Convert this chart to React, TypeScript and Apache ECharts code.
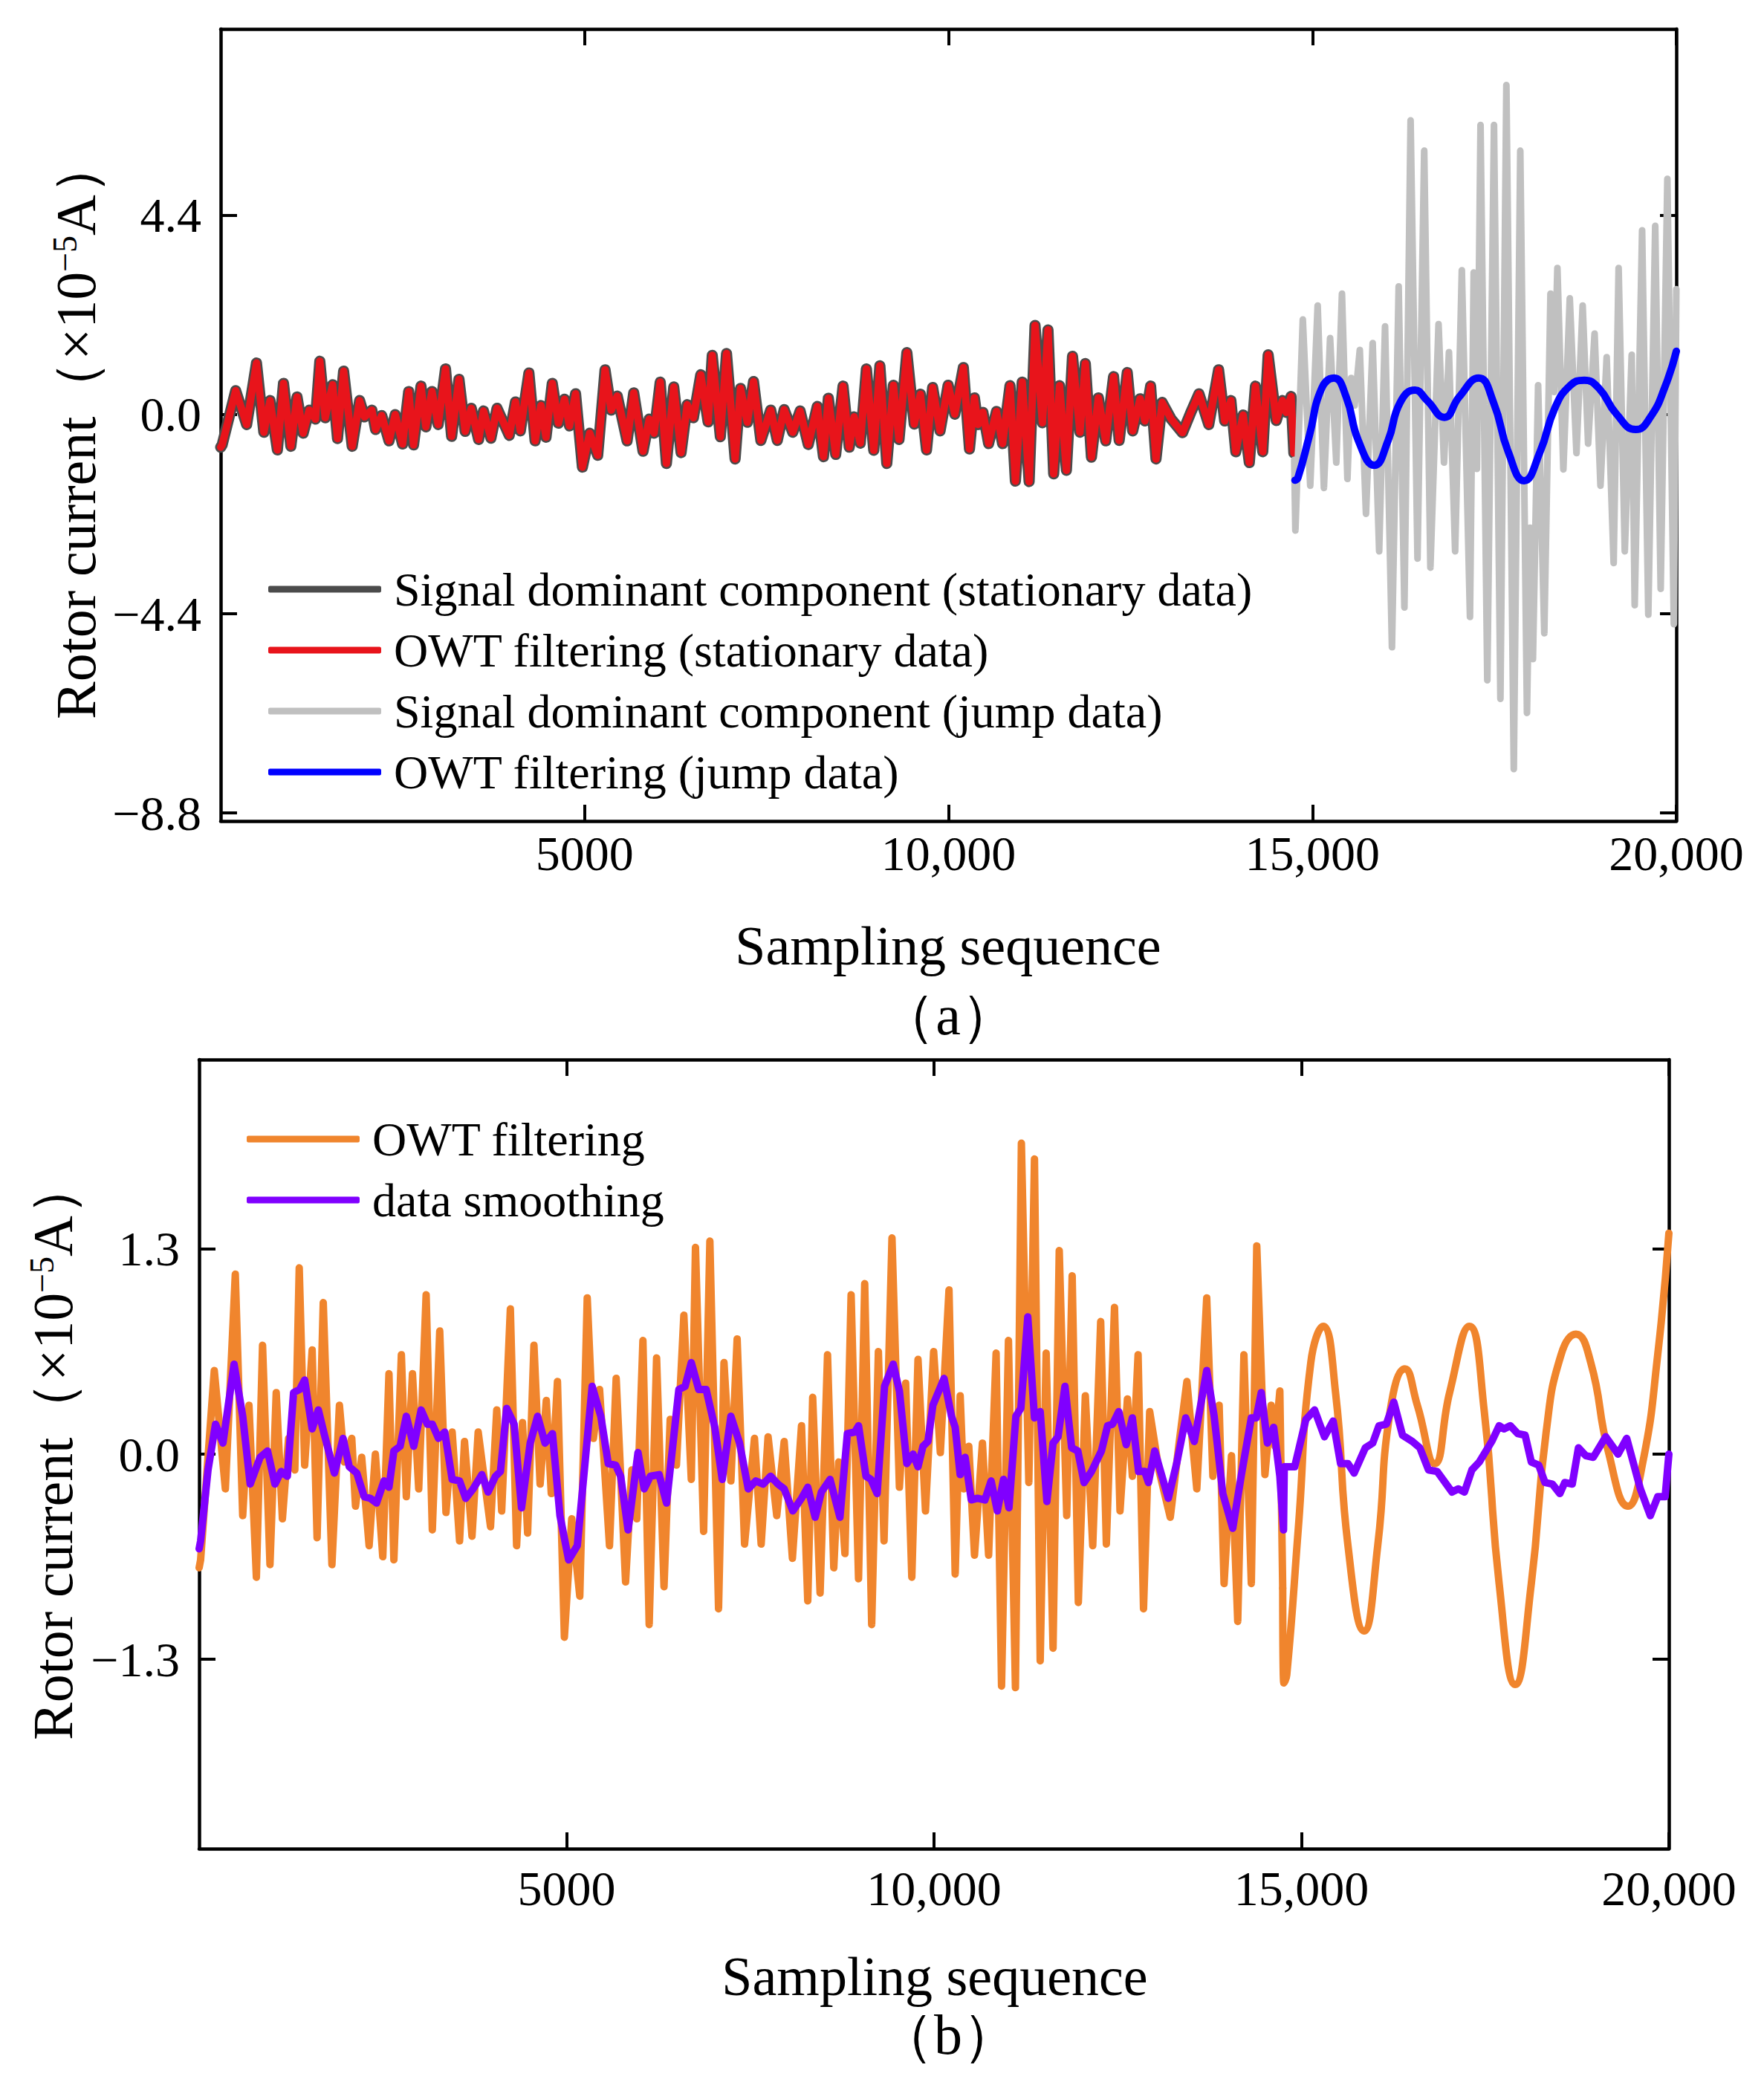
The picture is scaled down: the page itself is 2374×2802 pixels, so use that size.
import React, { useEffect, useRef } from 'react';
import * as echarts from 'echarts';

// OWT filtering result, stationary part (x = sampling index, y = current ×1e-5 A)
const owtStationary: number[][] = [
  [0, -0.72], [20, -0.67], [206, 0.53], [357, -0.22], [492, 1.14], [593, -0.39], [678, 0.31], [779, -0.78],
  [863, 0.69], [964, -0.70], [1049, 0.39], [1133, -0.41], [1217, 0.10], [1302, -0.10], [1362, 1.18],
  [1436, -0.07], [1538, 0.66], [1605, -0.53], [1689, 0.96], [1807, -0.70], [1909, 0.31], [1976, -0.05],
  [2077, 0.10], [2128, -0.33], [2212, -0.02], [2313, -0.58], [2398, 0.00], [2499, -0.65], [2583, 0.51],
  [2650, -0.67], [2752, 0.63], [2819, -0.27], [2903, 0.51], [2988, -0.22], [3089, 1.01], [3173, -0.48],
  [3274, 0.78], [3359, -0.37], [3443, 0.14], [3544, -0.55], [3611, 0.08], [3713, -0.52], [3797, 0.14],
  [3965, -0.46], [4050, 0.28], [4117, -0.36], [4235, 0.92], [4320, -0.58], [4400, 0.20], [4470, -0.50],
  [4556, 0.69], [4640, -0.19], [4724, 0.34], [4792, -0.25], [4876, 0.46], [4970, -1.16], [5070, -0.41],
  [5180, -0.90], [5281, 0.99], [5365, 0.10], [5449, 0.41], [5584, -0.58], [5675, 0.48], [5803, -0.81],
  [5888, -0.10], [5955, -0.41], [6039, 0.72], [6124, -1.08], [6225, 0.61], [6326, -0.84], [6410, 0.22],
  [6495, -0.07], [6596, 0.88], [6697, -0.16], [6754, 1.31], [6865, -0.49], [6950, 1.35], [7068, -0.98],
  [7142, 0.58], [7236, -0.17], [7321, 0.73], [7422, -0.57], [7557, 0.10], [7648, -0.57], [7742, 0.11],
  [7860, -0.39], [7961, 0.08], [8073, -0.66], [8197, 0.18], [8282, -0.93], [8349, 0.36], [8450, -0.88],
  [8551, 0.63], [8636, -0.72], [8703, -0.05], [8788, -0.63], [8872, 1.01], [8973, -0.79], [9057, 1.08],
  [9152, -1.08], [9243, 0.65], [9320, -0.55], [9428, 1.37], [9529, -0.21], [9614, 0.45], [9698, -0.78],
  [9782, 0.60], [9884, -0.36], [9995, 0.65], [10086, 0.01], [10204, 1.04], [10288, -0.76], [10356, 0.37],
  [10406, -0.22], [10473, 0.05], [10551, -0.64], [10659, 0.07], [10743, -0.64], [10845, 0.64], [10919, -1.47],
  [11013, 0.72], [11108, -1.48], [11189, 1.97], [11290, -0.18], [11367, 1.87], [11445, -1.31], [11526, 0.64],
  [11620, -1.23], [11704, 1.29], [11806, -0.39], [11880, 1.13], [11964, -0.94], [12059, 0.37], [12160, -0.58],
  [12268, 0.84], [12345, -0.57], [12456, 0.93], [12531, -0.36], [12632, 0.35], [12699, -0.14], [12777, 0.63],
  [12851, -0.98], [12935, 0.27], [13060, -0.10], [13215, -0.40], [13330, 0.05], [13441, 0.46], [13576, -0.22],
  [13711, 0.99], [13795, -0.14], [13880, 0.31], [13947, -0.82], [14048, -0.01], [14133, -1.06], [14217, 0.63],
  [14318, -0.82], [14392, 1.32], [14503, -0.13], [14588, 0.31], [14640, 0.05], [14706, 0.40], [14745, -0.85],
];

// OWT filtering result, jump part
const owtJump: number[][] = [
  [14760, -1.45], [14800, -1.40], [14959, -0.46], [15127, 0.58], [15296, 0.81], [15464, 0.39], [15633, -0.58],
  [15852, -1.12], [16038, -0.58], [16206, 0.27], [16409, 0.54], [16577, 0.31], [16813, -0.06], [17016, 0.39],
  [17285, 0.81], [17488, 0.27], [17690, -0.82], [17909, -1.46], [18128, -0.82], [18330, 0.14], [18533, 0.63],
  [18735, 0.76], [18937, 0.58], [19174, 0.02], [19443, -0.33], [19646, -0.05], [19848, 0.63], [20000, 1.40],
];

// signal dominant component, jump part
const jumpSignal: number[][] = [
  [14750, -1.0], [14766, -2.56], [14868, 2.10], [14970, -1.57], [15072, 2.41], [15158, -1.62], [15243, 1.69],
  [15328, -1.06], [15406, 2.67], [15481, -1.42], [15532, 0.81], [15580, 0.20], [15651, 1.43], [15736, -2.19],
  [15828, 1.58], [15917, -3.02], [15998, 1.95], [16093, -5.14], [16185, 2.83], [16264, -4.26], [16349, 6.50],
  [16444, -3.18], [16536, 5.83], [16621, -3.38], [16733, 2.00], [16808, -1.06], [16876, 1.38], [16961, -3.02],
  [17053, 3.19], [17165, -4.47], [17216, 3.14], [17260, -1.20], [17310, 6.40], [17403, -5.87], [17495, 6.40],
  [17583, -6.28], [17665, 7.28], [17767, -7.83], [17856, 5.83], [17948, -6.59], [17990, -2.50], [18030, -5.40],
  [18101, 0.65], [18186, -4.83], [18271, 2.67], [18320, 0.50], [18366, 3.24], [18448, -1.21], [18536, 2.57],
  [18628, -0.85], [18713, 2.41], [18788, -0.64], [18877, 1.79], [18958, -1.57], [19043, 1.27], [19139, -3.28],
  [19207, 3.24], [19292, -3.02], [19387, 1.32], [19428, -4.21], [19530, 4.07], [19615, -4.42], [19710, 4.17],
  [19785, -3.85], [19877, 5.21], [19966, -4.63], [20000, 2.77],
];

// data smoothing result
const smoothed: number[][] = [
  [0, -0.60], [20, -0.55], [121, -0.10], [223, 0.19], [324, 0.07], [475, 0.57], [593, 0.24], [695, -0.19],
  [830, -0.02], [931, 0.02], [1032, -0.19], [1116, -0.11], [1200, -0.14], [1285, 0.39], [1369, 0.41],
  [1436, 0.47], [1538, 0.16], [1622, 0.28], [1706, 0.12], [1841, -0.12], [1959, 0.10], [2043, -0.08],
  [2145, -0.12], [2246, -0.27], [2330, -0.28], [2414, -0.31], [2516, -0.17], [2583, -0.21], [2650, 0.02],
  [2735, 0.05], [2819, 0.24], [2920, 0.05], [3021, 0.28], [3106, 0.19], [3173, 0.19], [3257, 0.10],
  [3342, 0.14], [3443, -0.16], [3544, -0.17], [3628, -0.28], [3729, -0.22], [3847, -0.13], [3932, -0.24],
  [4033, -0.14], [4100, -0.11], [4185, 0.29], [4286, 0.19], [4387, -0.34], [4505, 0.07], [4606, 0.24],
  [4707, 0.07], [4808, 0.13], [4910, -0.39], [5028, -0.67], [5146, -0.58], [5348, 0.43], [5466, 0.24],
  [5567, -0.06], [5668, -0.07], [5736, -0.14], [5837, -0.48], [5972, 0.01], [6056, -0.22], [6140, -0.14],
  [6259, -0.13], [6360, -0.31], [6528, 0.41], [6613, 0.43], [6697, 0.58], [6798, 0.41], [6899, 0.41],
  [7017, 0.17], [7118, -0.16], [7236, 0.24], [7354, 0.07], [7472, -0.22], [7574, -0.17], [7675, -0.19],
  [7776, -0.14], [7877, -0.19], [7961, -0.22], [8079, -0.36], [8197, -0.28], [8282, -0.21], [8383, -0.40],
  [8467, -0.24], [8585, -0.16], [8720, -0.40], [8821, 0.13], [8922, 0.14], [8973, 0.18], [9074, -0.14],
  [9142, -0.16], [9226, -0.25], [9327, 0.43], [9445, 0.57], [9529, 0.40], [9630, -0.06], [9715, 0.00],
  [9782, -0.08], [9850, 0.05], [9917, 0.08], [9985, 0.31], [10136, 0.48], [10238, 0.24], [10288, 0.17],
  [10356, -0.13], [10423, -0.02], [10507, -0.29], [10592, -0.28], [10693, -0.29], [10777, -0.17], [10862, -0.36],
  [10946, -0.16], [11020, -0.34], [11114, 0.24], [11182, 0.29], [11276, 0.87], [11367, 0.23], [11445, 0.27],
  [11536, -0.30], [11620, 0.07], [11688, 0.11], [11782, 0.43], [11873, 0.04], [11957, 0.02], [12042, -0.18],
  [12143, -0.11], [12278, 0.02], [12362, 0.18], [12430, 0.19], [12514, 0.27], [12615, 0.06], [12699, 0.23],
  [12784, -0.11], [12868, -0.11], [12918, -0.18], [13003, 0.02], [13188, -0.28], [13306, -0.05], [13425, 0.23],
  [13542, 0.08], [13711, 0.53], [13812, 0.24], [13930, -0.25], [14065, -0.47], [14183, -0.13], [14318, 0.23],
  [14385, 0.23], [14453, 0.39], [14537, 0.07], [14622, 0.17], [14706, -0.14], [14756, -0.48], [14766, -0.08],
  [14908, -0.08], [15060, 0.22], [15178, 0.28], [15313, 0.11], [15431, 0.21], [15532, -0.06], [15633, -0.06],
  [15717, -0.12], [15869, 0.04], [15970, 0.07], [16055, 0.18], [16156, 0.19], [16257, 0.33], [16375, 0.12],
  [16510, 0.08], [16611, 0.04], [16729, -0.10], [16847, -0.11], [17049, -0.24], [17134, -0.22], [17218, -0.24],
  [17319, -0.10], [17420, -0.05], [17589, 0.08], [17690, 0.18], [17757, 0.16], [17842, 0.18], [17943, 0.13],
  [18044, 0.12], [18128, -0.05], [18229, -0.07], [18314, -0.18], [18415, -0.19], [18516, -0.25], [18583, -0.18],
  [18685, -0.19], [18769, 0.04], [18870, -0.01], [18971, -0.02], [19140, 0.11], [19308, 0.00], [19426, 0.10],
  [19612, -0.22], [19747, -0.39], [19848, -0.27], [19949, -0.27], [20000, 0.00],
];

const xTicks = [5000, 10000, 15000, 20000];
const yTicksTop = [-8.8, -4.4, 0, 4.4];
const yTicksBottom = [-1.3, 0, 1.3];

const FONT = "'Liberation Serif', 'Times New Roman', serif";

const fmtY = (v: number) => (v < 0 ? '\u2212' + Math.abs(v).toFixed(1) : v.toFixed(1));
const fmtX = (v: number) => (v >= 10000 ? v.toLocaleString('en-US') : String(v));

const App: React.FC = () => {
  const chartRef = useRef<HTMLDivElement>(null);

  useEffect(() => {
    if (!chartRef.current) return;
    const chart = echarts.init(chartRef.current, undefined, { renderer: 'svg' });

    const frameLine = { show: true, onZero: false, lineStyle: { color: '#000', width: 4.5 } };

    const xAxisFor = (grid: number, pos: 'bottom' | 'top', labelMargin: number) => ({
      type: 'value',
      gridIndex: grid,
      position: pos,
      min: 0,
      max: 20000,
      axisLine: frameLine,
      axisTick: { show: true, inside: true, length: 22, customValues: xTicks, lineStyle: { color: '#000', width: 4 } },
      axisLabel: {
        show: pos === 'bottom',
        customValues: xTicks,
        formatter: fmtX,
        fontSize: 66,
        fontFamily: FONT,
        color: '#000',
        margin: labelMargin,
      },
      splitLine: { show: false },
    });

    const yAxisFor = (grid: number, pos: 'left' | 'right', min: number, max: number, ticks: number[]) => ({
      type: 'value',
      gridIndex: grid,
      position: pos,
      min,
      max,
      axisLine: frameLine,
      axisTick: { show: true, inside: true, length: 22, customValues: ticks, lineStyle: { color: '#000', width: 4 } },
      axisLabel: {
        show: pos === 'left',
        customValues: ticks,
        formatter: fmtY,
        fontSize: 66,
        fontFamily: FONT,
        color: '#000',
        margin: 26,
      },
      splitLine: { show: false },
    });

    const line = (color: string, width: number) => ({
      color,
      width,
      cap: 'round',
      join: 'round',
    });

    const legendText = { fontSize: 64, fontFamily: FONT, color: '#000', lineHeight: 82, padding: [0, 0, 0, 12] };

    const yTitle = (x: number, y: number) => ({
      type: 'text',
      x,
      y,
      rotation: Math.PI / 2,
      style: {
        text: 'Rotor current（×10{sup|\u22125}A）',
        font: `76px ${FONT}`,
        fill: '#000',
        align: 'center',
        verticalAlign: 'middle',
        rich: { sup: { fontSize: 46, fontFamily: FONT, verticalAlign: 'top', fill: '#000' } },
      },
    });

    const plainText = (x: number, y: number, text: string, size: number) => ({
      type: 'text',
      x,
      y,
      style: { text, font: `${size}px ${FONT}`, fill: '#000', align: 'center', verticalAlign: 'middle' },
    });

    const option: any = {
      animation: false,
      backgroundColor: '#fff',
      grid: [
        { left: 297, top: 39, width: 1959, height: 1066 },
        { left: 268, top: 1426, width: 1978, height: 1062 },
      ],
      xAxis: [
        xAxisFor(0, 'bottom', 10),
        xAxisFor(0, 'top', 10),
        xAxisFor(1, 'bottom', 20),
        xAxisFor(1, 'top', 20),
      ],
      yAxis: [
        yAxisFor(0, 'left', -8.98, 8.52, yTicksTop),
        yAxisFor(0, 'right', -8.98, 8.52, yTicksTop),
        yAxisFor(1, 'left', -2.5, 2.5, yTicksBottom),
        yAxisFor(1, 'right', -2.5, 2.5, yTicksBottom),
      ],
      legend: [
        {
          data: [
            'Signal dominant component (stationary data)',
            'OWT filtering (stationary data)',
            'Signal dominant component (jump data)',
            'OWT filtering (jump data)',
          ],
          orient: 'vertical',
          left: 356,
          top: 747,
          icon: 'roundRect',
          itemWidth: 152,
          itemHeight: 9,
          itemGap: 0,
          selectedMode: false,
          textStyle: legendText,
        },
        {
          data: ['OWT filtering', 'data smoothing'],
          orient: 'vertical',
          left: 327,
          top: 1487,
          icon: 'roundRect',
          itemWidth: 152,
          itemHeight: 9,
          itemGap: 0,
          selectedMode: false,
          textStyle: legendText,
        },
      ],
      series: [
        {
          name: 'Signal dominant component (stationary data)',
          type: 'line',
          xAxisIndex: 0,
          yAxisIndex: 0,
          data: owtStationary,
          symbol: 'none',
          color: '#4b4b4b',
          lineStyle: line('#4b4b4b', 15),
        },
        {
          name: 'OWT filtering (stationary data)',
          type: 'line',
          xAxisIndex: 0,
          yAxisIndex: 0,
          data: owtStationary,
          symbol: 'none',
          color: '#e8141b',
          lineStyle: line('#e8141b', 10),
        },
        {
          name: 'Signal dominant component (jump data)',
          type: 'line',
          xAxisIndex: 0,
          yAxisIndex: 0,
          data: jumpSignal,
          symbol: 'none',
          color: '#c0c0c0',
          lineStyle: line('#c0c0c0', 9),
        },
        {
          name: 'OWT filtering (jump data)',
          type: 'line',
          xAxisIndex: 0,
          yAxisIndex: 0,
          data: owtJump,
          symbol: 'none',
          smooth: 0.5,
          color: '#0000ff',
          lineStyle: line('#0000ff', 10),
        },
        {
          name: 'OWT filtering',
          type: 'line',
          xAxisIndex: 2,
          yAxisIndex: 2,
          data: owtStationary,
          symbol: 'none',
          color: '#f0852d',
          lineStyle: line('#f0852d', 10),
        },
        {
          name: 'OWT filtering',
          type: 'line',
          xAxisIndex: 2,
          yAxisIndex: 2,
          data: [owtStationary[owtStationary.length - 1], ...owtJump],
          symbol: 'none',
          smooth: 0.5,
          color: '#f0852d',
          lineStyle: line('#f0852d', 10),
        },
        {
          name: 'data smoothing',
          type: 'line',
          xAxisIndex: 2,
          yAxisIndex: 2,
          data: smoothed,
          symbol: 'none',
          color: '#8000ff',
          lineStyle: line('#8000ff', 10),
        },
      ],
      graphic: [
        yTitle(102, 577),
        plainText(1276, 1273, 'Sampling sequence', 74),
        plainText(1276, 1366, '（a）', 76),
        yTitle(71, 1951),
        plainText(1258, 2660, 'Sampling sequence', 74),
        plainText(1276, 2738, '（b）', 76),
      ],
    };

    chart.setOption(option);

    return () => {
      chart.dispose();
    };
  }, []);

  return (
    <div style={{ position: 'absolute', left: 0, top: 0, width: 2374, height: 2802, background: '#fff' }}>
      <div ref={chartRef} style={{ width: '2374px', height: '2802px' }} />
    </div>
  );
};

export default App;
